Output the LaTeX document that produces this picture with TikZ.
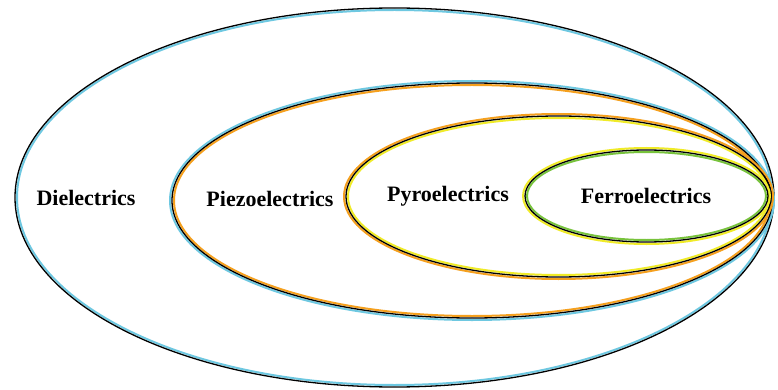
\documentclass[tikz,border=0pt]{standalone}
\usepackage{fontspec}
\setmainfont{Liberation Serif}
\definecolor{lblue}{RGB}{110,200,225}
\definecolor{lorange}{RGB}{245,160,30}
\definecolor{lyellow}{RGB}{240,235,40}
\definecolor{lgreen}{RGB}{120,195,60}
\begin{document}
\begin{tikzpicture}[x=1pt,y=-1pt,
  lbl/.style={font=\fontsize{22}{24}\selectfont\bfseries, text=black, inner sep=0pt},
  blk/.style={draw=black, line width=1.3pt},
  tint/.style={draw=#1, line width=2pt}]
\useasboundingbox (0,0) rectangle (778,390);
\fill[white] (0,0) rectangle (778,390);
% outer ellipse: Dielectrics
\draw[tint=lblue] (394.5,197.5) ellipse [x radius=377.5, y radius=187.5];
\draw[blk] (394.5,197.5) ellipse [x radius=379.5, y radius=189.5];
% second: Piezoelectrics
\draw[tint=lblue] (472,200.5) ellipse [x radius=302, y radius=119.5];
\draw[tint=lorange] (472,200.5) ellipse [x radius=298, y radius=115.5];
\draw[blk] (472,200.5) ellipse [x radius=300, y radius=117.5];
% third: Pyroelectrics
\draw[tint=lorange] (558.5,196.5) ellipse [x radius=214.5, y radius=82.5];
\draw[tint=lyellow] (558.5,196.5) ellipse [x radius=210.5, y radius=78.5];
\draw[blk] (558.5,196.5) ellipse [x radius=212.5, y radius=80.5];
% fourth: Ferroelectrics
\draw[tint=lyellow] (646.5,196) ellipse [x radius=123.5, y radius=48];
\draw[tint=lgreen] (646.5,196) ellipse [x radius=119.5, y radius=44];
\draw[blk] (646.5,196) ellipse [x radius=121.5, y radius=46];
% labels
\node[lbl] (diel) at (86,198) {Dielectrics};
\node[lbl] (piezo) at (270,199) {Piezoelectrics};
\node[lbl] (pyro) at (448,196) {Pyroelectrics};
\node[lbl] (ferro) at (646,196) {Ferroelectrics};
\end{tikzpicture}
\end{document}
